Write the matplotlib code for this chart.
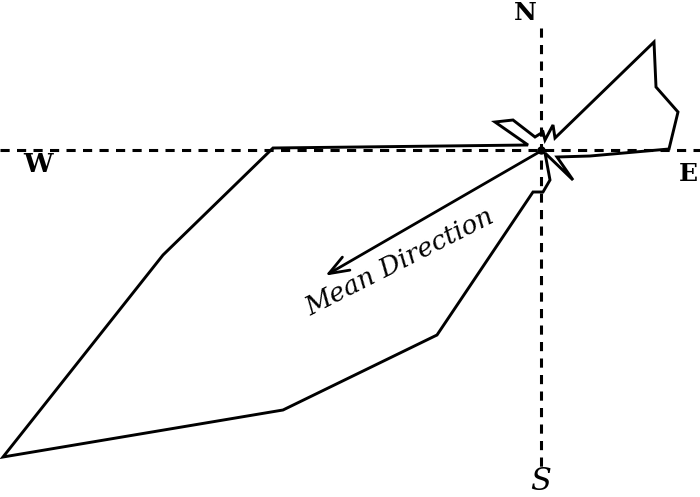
import matplotlib.pyplot as plt

# outline of the diagram: east / north offsets from the centre
east = [113, 115, 137, 128, 49, 16, 32, 4, 9, 2, -8, -104, -258, -538,
        -378, -268, -13, -46, -28, -6, 2, 4, 12, 14]
north = [108, 63, 38, 1, -6, -7, -30, -3, -30, -42, -42, -185, -260, -307,
         -105, 2, 5, 28, 30, 13, 18, 10, 25, 12]

# mean direction arrow tip
mean_east, mean_north = -218, -127

# compass labels
compass = ["N", "W", "E", "S"]
compass_pos = [(-16, 137), (-503, -15), (147, -24), (0, -331)]
compass_size = [18, 19, 18, 22]

fig = plt.figure(figsize=(7, 4.97), dpi=100)
ax = fig.add_axes([0, 0, 1, 1])
ax.set_xlim(-541, 159)
ax.set_ylim(-347, 150)
ax.axis('off')

# axes of the compass
ax.plot([-541, 159], [0, 0], color='black', lw=2.2, linestyle=(0, (3, 2.4)))
ax.plot([0, 0], [122, -317], color='black', lw=2.2, linestyle=(0, (3, 2.4)))

ax.fill(east, north, facecolor='none', edgecolor='black', lw=2.1, joinstyle='miter')
ax.plot([0], [0], 'o', color='black', ms=5)

ax.annotate('', xy=(mean_east, mean_north), xytext=(0, -1),
            arrowprops=dict(arrowstyle='->,head_length=0.8,head_width=0.3',
                            lw=2, color='black', mutation_scale=18))
ax.text(-141, -112, 'Mean Direction', rotation=27, fontsize=19,
        family='DejaVu Serif', style='italic', ha='center', va='center',
        rotation_mode='anchor')

for lab, (x, y), fs in zip(compass, compass_pos, compass_size):
    ax.text(x, y, lab, fontsize=fs, family='DejaVu Serif',
            weight='bold' if lab != 'S' else 'normal',
            style='italic' if lab == 'S' else 'normal', ha='center', va='center')

fig.savefig('out.png', dpi=100)
